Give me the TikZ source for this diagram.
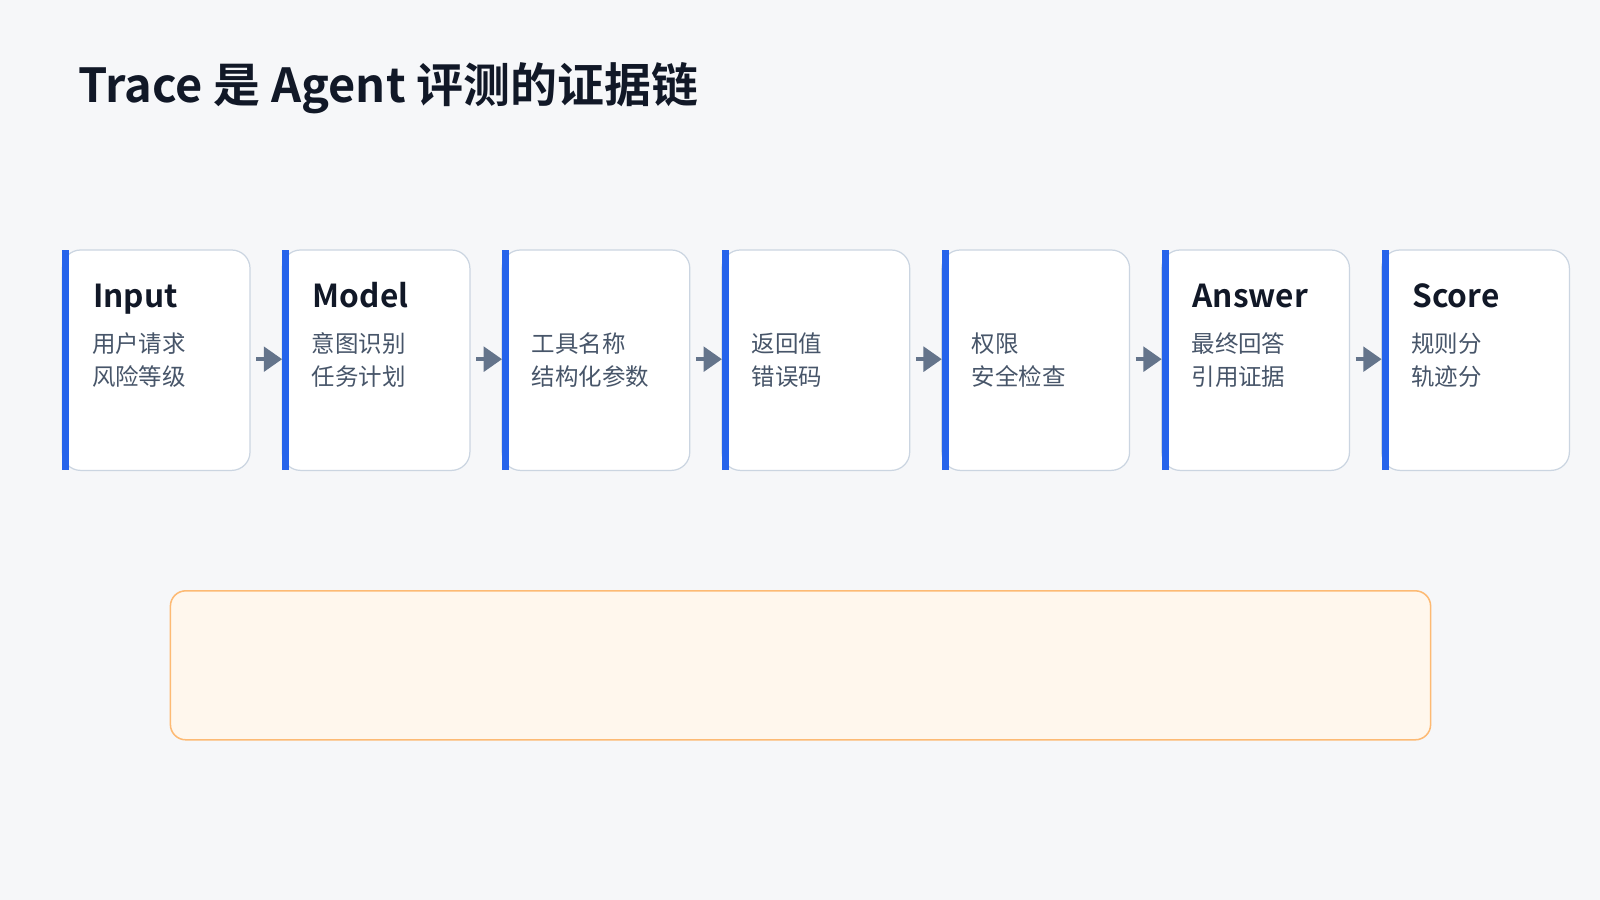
\documentclass[tikz,border=0pt]{standalone}
\usepackage{fontspec}
\setmainfont{Noto Sans CJK SC}
\newfontfamily\cjkb{Noto Sans CJK SC Bold}
\usetikzlibrary{arrows.meta}
\definecolor{bg}{HTML}{F6F7F9}
\definecolor{bord}{HTML}{CBD5E1}
\definecolor{bar}{HTML}{2563EB}
\definecolor{arr}{HTML}{64748B}
\definecolor{sub}{HTML}{475569}
\definecolor{ttl}{HTML}{111827}
\definecolor{obg}{HTML}{FFF7ED}
\definecolor{obd}{HTML}{FDBA74}
\tikzset{
 card/.style={draw=bord,line width=1.2pt,fill=white,rounded corners=18pt},
 cardtitle/.style={anchor=base west,font=\cjkb\fontsize{31}{34}\selectfont,text=ttl,inner sep=0},
 cardsub/.style={anchor=north west,align=left,font=\fontsize{23}{32}\selectfont,text=sub,inner sep=0},
 flow/.style={arr,line width=4pt,-{Triangle[length=18pt,width=24pt]}}
}
\begin{document}
\begin{tikzpicture}[x=1pt,y=-1pt]
\fill[bg] (0,0) rectangle (1568,882);
\useasboundingbox (0,0) rectangle (1568,882);
\node[anchor=base west,inner sep=0,font=\cjkb\fontsize{46}{50}\selectfont,text=ttl] (title) at (77,100) {Trace 是 Agent 评测的证据链};
\foreach \i/\t/\s in {0/Input/{用户请求\\风险等级},1/Model/{意图识别\\任务计划},2//{工具名称\\结构化参数},3//{返回值\\错误码},4//{权限\\安全检查},5/Answer/{最终回答\\引用证据},6/Score/{规则分\\轨迹分}}{
  \pgfmathsetmacro{\xx}{61+215.5*\i}
  \draw[card] (\xx,245) rectangle ++(184,216);
  \fill[bar] (\xx,245) rectangle ++(7,216);
  \coordinate (L\i) at (\xx,352);
  \coordinate (R\i) at (\xx+190,352);
  \node[cardtitle] (t\i) at (\xx+30,301) {\t};
  \node[cardsub] (s\i) at (\xx+29,326) {\s};
}
\foreach \i [evaluate=\i as \j using int(\i+1)] in {0,...,5}{
  \draw[flow] (R\i) -- (L\j);
}
\draw[draw=obd,line width=1.5pt,fill=obg,rounded corners=15pt] (167,579) rectangle (1402,725);
\end{tikzpicture}
\end{document}
